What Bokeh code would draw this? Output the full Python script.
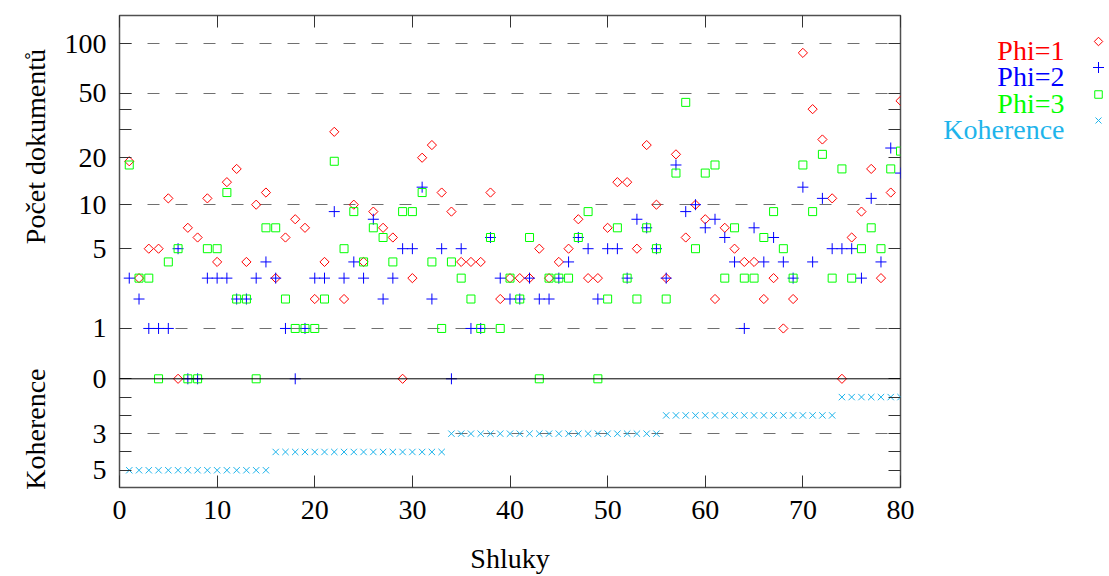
import math
from bokeh.plotting import figure
from bokeh.layouts import row
from bokeh.models import (FixedTicker, LinearAxis, Range1d, Span, ColumnDataSource, Label,
                          InlineStyleSheet)
from bokeh.embed import file_html
from bokeh.resources import INLINE

# ---------------- data ----------------
clusters = list(range(1, 81))

phi1 = [19, 3, 5, 5, 11, 0, 7, 6, 11, 4,
        14, 17, 4, 10, 12, 3, 6, 8, 7, 2,
        4, 29, 2, 10, 4, 9, 7, 6, 0, 3,
        20, 24, 12, 9, 4, 4, 4, 12, 2, 3,
        3, 3, 5, 3, 4, 5, 8, 3, 3, 7,
        14, 14, 5, 24, 10, 3, 21, 6, 10, 8,
        2, 7, 5, 4, 4, 2, 3, 1, 2, 88,
        40, 26, 11, 0, 6, 9, 17, 3, 12, 45]

phi2 = [3, 2, 1, 1, 1, 5, 0, 0, 3, 3,
        3, 2, 2, 3, 4, 3, 1, 0, 1, 3,
        3, 9, 3, 4, 3, 8, 2, 3, 5, 5,
        13, 2, 5, 0, 5, 1, 1, 6, 3, 2,
        2, 3, 2, 2, 3, 4, 6, 5, 2, 5,
        5, 3, 8, 7, 5, 3, 18, 9, 10, 7,
        8, 6, 4, 1, 7, 4, 6, 4, 3, 13,
        4, 11, 5, 5, 5, 3, 11, 4, 23, 16]

phi3 = [18, 3, 3, 0, 4, 5, 0, 0, 5, 5,
        12, 2, 2, 0, 7, 7, 2, 1, 1, 1,
        2, 19, 5, 9, 4, 7, 6, 4, 9, 9,
        12, 4, 1, 4, 3, 2, 1, 6, 1, 3,
        2, 6, 0, 3, 3, 3, 6, 9, 0, 2,
        7, 3, 2, 7, 5, 2, 16, 44, 5, 16,
        18, 3, 7, 3, 3, 6, 9, 5, 3, 18,
        9, 21, 3, 17, 3, 5, 7, 5, 17, 22]

koherence = [5, 5, 5, 5, 5, 5, 5, 5, 5, 5,
             5, 5, 5, 5, 5, 4, 4, 4, 4, 4,
             4, 4, 4, 4, 4, 4, 4, 4, 4, 4,
             4, 4, 4, 3, 3, 3, 3, 3, 3, 3,
             3, 3, 3, 3, 3, 3, 3, 3, 3, 3,
             3, 3, 3, 3, 3, 2, 2, 2, 2, 2,
             2, 2, 2, 2, 2, 2, 2, 2, 2, 2,
             2, 2, 2, 1, 1, 1, 1, 1, 1, 1]

count_ticks = [0, 1, 5, 10, 20, 30, 40, 50, 100]
count_labels = {0: "0", 1: "1", 5: "5", 10: "10", 20: "20", 50: "50", 100: "100"}
coh_ticks = [1, 2, 3, 4, 5]
coh_labels = {3: "3", 5: "5"}
count_grid = [1, 10, 50, 100]
coh_grid = [3]
x_ticks = [0, 10, 20, 30, 40, 50, 60, 70, 80]

series_names = ["Phi=1", "Phi=2", "Phi=3", "Koherence"]
series_colors = ["#ff0000", "#0000ff", "#00ff00", "#1eb4eb"]
y_title_count = "Počet dokumentů"
y_title_coh = "Koherence"
x_title = "Shluky"

FONT = "Liberation Serif"
serif_css = InlineStyleSheet(css="text { font-family: 'Liberation Serif', 'DejaVu Serif', serif !important; }")
K = 0.1094           # height of one coherence step relative to log10(1+n)
PX_PER_UNIT = 167.2  # pixels per unit of the transformed y scale
ZERO_PX = 378.3      # page y of the zero line


def up(v):
    return math.log10(1 + v)


def low(c):
    return -K * c


def page_y_to_axis(py):
    return (ZERO_PX - py) / PX_PER_UNIT


# ---------------- layout geometry (pixels) ----------------
W, H = 1109, 576
LEG_W = 180
MAIN_W = W - LEG_W
FL, FR, FT, FB = 119, 900, 15, 487   # plot frame in page pixels

# ---------------- main plot ----------------
p = figure(width=MAIN_W, height=H, output_backend="svg", toolbar_location=None,
           x_range=Range1d(0, 80), y_range=Range1d(page_y_to_axis(FB), page_y_to_axis(FT)),
           min_border_left=FL, min_border_right=MAIN_W - FR,
           min_border_top=FT, min_border_bottom=H - FB, stylesheets=[serif_css])
p.background_fill_color = "white"
p.border_fill_color = "white"
p.outline_line_color = "#505050"
p.outline_line_width = 1.5
p.xgrid.visible = False

y_tick_vals = [up(v) for v in count_ticks] + [low(c) for c in coh_ticks]
overrides = {}
for v in count_ticks:
    overrides[up(v)] = count_labels.get(v, "")
for c in coh_ticks:
    overrides[low(c)] = coh_labels.get(c, "")

p.ygrid.ticker = FixedTicker(ticks=[up(v) for v in count_grid] + [low(c) for c in coh_grid])
p.ygrid.grid_line_color = "#707070"
p.ygrid.grid_line_dash = "12 16"
p.ygrid.grid_line_width = 1

for ax in p.yaxis:
    ax.ticker = FixedTicker(ticks=y_tick_vals)
    ax.major_label_overrides = overrides
for ax in p.xaxis:
    ax.ticker = FixedTicker(ticks=x_ticks)
for ax in list(p.yaxis) + list(p.xaxis):
    ax.major_tick_in = 12
    ax.major_tick_out = 0
    ax.minor_tick_line_color = None
    ax.axis_line_color = None
    ax.major_tick_line_color = "#333333"
    ax.major_label_standoff = 13
    ax.major_label_text_font = FONT
    ax.major_label_text_font_size = "28px"
    ax.major_label_text_color = "black"

# axis titles drawn by outer (title-only) axes; a rotated label ends at its tick
y_title_pos = [page_y_to_axis(48.5), page_y_to_axis(368)]
ytitle_ax = LinearAxis(ticker=FixedTicker(ticks=y_title_pos),
                       major_label_overrides={y_title_pos[0]: y_title_count,
                                              y_title_pos[1]: y_title_coh},
                       major_label_orientation=math.pi / 2,
                       major_tick_line_color=None, minor_tick_line_color=None,
                       axis_line_color=None, major_label_standoff=20,
                       major_label_text_font=FONT, major_label_text_font_size="28px",
                       major_label_text_color="black")
p.add_layout(ytitle_ax, "left")

x_title_pos = [40]
xtitle_ax = LinearAxis(ticker=FixedTicker(ticks=x_title_pos),
                       major_label_overrides={x_title_pos[0]: x_title},
                       major_tick_line_color=None, minor_tick_line_color=None,
                       axis_line_color=None, major_label_standoff=15,
                       major_label_text_font=FONT, major_label_text_font_size="28px",
                       major_label_text_color="black")
p.add_layout(xtitle_ax, "below")

# mirrored ticks
right_ax = LinearAxis(ticker=FixedTicker(ticks=y_tick_vals), major_tick_in=12, major_tick_out=0,
                      minor_tick_line_color=None, axis_line_color=None,
                      major_tick_line_color="#333333", major_label_text_font_size="0px",
                      major_label_standoff=0)
p.add_layout(right_ax, "right")
top_ax = LinearAxis(ticker=FixedTicker(ticks=x_ticks), major_tick_in=12, major_tick_out=0,
                    minor_tick_line_color=None, axis_line_color=None,
                    major_tick_line_color="#333333", major_label_text_font_size="0px",
                    major_label_standoff=0)
p.add_layout(top_ax, "above")

p.add_layout(Span(location=0, dimension="width", line_color="black", line_width=1))

src = ColumnDataSource(dict(
    x=clusters,
    y1=[up(v) for v in phi1],
    y2=[up(v) for v in phi2],
    y3=[up(v) for v in phi3],
    yk=[low(c) for c in koherence],
))

p.scatter("x", "y1", source=src, marker="square", angle=math.pi / 4, size=6.5,
          fill_color=None, line_color=series_colors[0], line_width=1)
p.scatter("x", "y2", source=src, marker="cross", size=11,
          line_color=series_colors[1], line_width=1)
p.scatter("x", "y3", source=src, marker="square", size=8,
          fill_color=None, line_color=series_colors[2], line_width=1)
p.scatter("x", "yk", source=src, marker="x", size=9,
          line_color=series_colors[3], line_width=1)

# ---------------- legend strip (frame aligned with the main frame; y data = page y) ----------------
leg = figure(width=LEG_W, height=H, output_backend="svg", toolbar_location=None,
             x_range=Range1d(0, LEG_W), y_range=Range1d(FB, FT),
             min_border=0, min_border_left=0, min_border_right=0,
             min_border_top=FT, min_border_bottom=H - FB, stylesheets=[serif_css])
leg.axis.visible = False
leg.grid.visible = False
leg.outline_line_color = None
leg.background_fill_color = "white"
leg.border_fill_color = "white"

off = MAIN_W
leg_text_x = 1064 - off
leg_base_y = [50, 76.4, 102.8, 129.2]
for name, col, by in zip(series_names, series_colors, leg_base_y):
    leg.add_layout(Label(x=leg_text_x, y=by, text=name, text_align="right",
                         text_baseline="alphabetic", text_font=FONT, text_font_size="28px",
                         text_color=col))
mk_x = 1098 - off
leg.scatter([mk_x], [41], marker="square", angle=math.pi / 4, size=6,
            fill_color=None, line_color=series_colors[0], line_width=1)
leg.scatter([mk_x], [67], marker="cross", size=11, line_color=series_colors[1], line_width=1)
leg.scatter([mk_x], [94], marker="square", size=7.5, fill_color=None,
            line_color=series_colors[2], line_width=1)
leg.scatter([mk_x], [120], marker="x", size=8.5, line_color=series_colors[3], line_width=1)

layout = row(p, leg, spacing=0)
open("out.html", "w").write(file_html(layout, INLINE))
